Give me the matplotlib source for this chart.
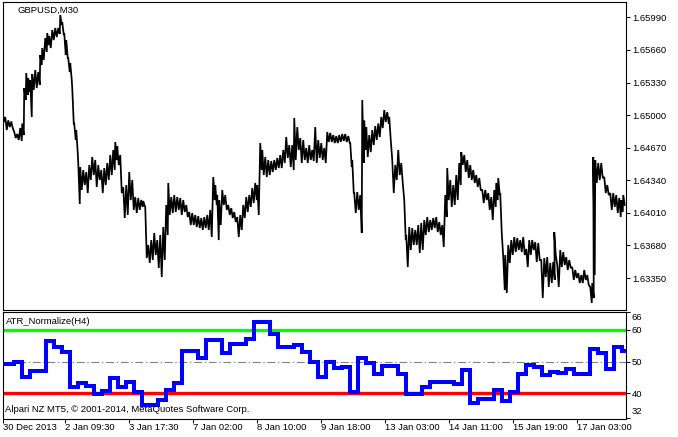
"""
GBPUSD M30 price chart with ATR_Normalize(H4) sub-window (MetaTrader 5 style)
"""
import numpy as np
import matplotlib.pyplot as plt
import matplotlib.transforms as mtransforms

plt.rcParams["font.family"] = ["Liberation Sans", "DejaVu Sans"]

# --- price data: bar index (M30 bars), high and low ---
bars = [
    0, 3, 6, 9, 12, 15, 18, 20, 22, 24,
    26, 28, 30, 33, 36, 38, 40, 43, 45, 47,
    50, 53, 56, 58, 60, 62, 64, 66, 68, 70,
    72, 74, 76, 78, 81, 84, 87, 90, 93, 96,
    99, 102, 105, 108, 111, 113, 115, 118, 121, 124,
    127, 130, 133, 136, 139, 141, 143, 146, 149, 152,
    155, 158, 161, 164, 166, 169, 172, 175, 178, 181,
    184, 187, 190, 193, 196, 199, 202, 205, 208, 211,
    213, 215, 217, 220, 223, 226, 229, 232, 235, 238,
    241, 244, 247, 250, 253, 255, 258, 260, 263, 266,
    269, 272, 275, 278, 281, 284, 287, 290, 292, 295,
    298, 301, 304, 307, 310, 313, 316, 319, 322, 325,
    328, 331, 334, 337, 340, 343, 346, 348, 350, 352,
    355, 358, 360, 362, 364, 367, 370, 373, 376, 379,
    382, 385, 387, 390, 393, 396, 399, 402, 404, 407,
    410, 413, 416, 419, 422, 425, 428, 431, 434, 437,
    440, 443, 445, 448, 451, 454, 457, 459, 462, 465,
    468, 471, 474, 477, 480, 483, 486, 489, 492, 494,
    496, 498, 501, 503, 506, 509, 512, 515, 518, 521,
    524, 527, 530, 533, 536, 539, 542, 545, 548, 551,
    552, 555, 558, 561, 564, 567, 570, 573, 576, 579,
    582, 585, 588, 590, 591, 593, 596, 599, 602, 605,
    608, 611, 614, 617, 619, 621,
]
high = [
    1.65082, 1.64981, 1.64947, 1.64935, 1.64829, 1.64809, 1.64869, 1.64915, 1.65274, 1.65426,
    1.65375, 1.65355, 1.65416, 1.65456, 1.65436, 1.65608, 1.65679, 1.65780, 1.65831, 1.65801,
    1.65861, 1.65882, 1.65882, 1.66013, 1.65942, 1.65831, 1.65760, 1.65578, 1.65527, 1.65274,
    1.64915, 1.64849, 1.64515, 1.64474, 1.64444, 1.64424, 1.64495, 1.64576, 1.64545, 1.64495,
    1.64444, 1.64464, 1.64515, 1.64596, 1.64647, 1.64728, 1.64687, 1.64596, 1.64272, 1.64292,
    1.64424, 1.64343, 1.64171, 1.64161, 1.64140, 1.64130, 1.64070, 1.63685, 1.63735, 1.63806,
    1.63735, 1.63786, 1.63867, 1.64090, 1.64313, 1.64171, 1.64191, 1.64171, 1.64161, 1.64140,
    1.64090, 1.64019, 1.64009, 1.63989, 1.63978, 1.63958, 1.63968, 1.63989, 1.64040, 1.64373,
    1.64292, 1.64191, 1.64140, 1.64242, 1.64191, 1.64090, 1.64059, 1.64019, 1.63968, 1.63989,
    1.64090, 1.64171, 1.64191, 1.64262, 1.64313, 1.64292, 1.64717, 1.64647, 1.64576, 1.64545,
    1.64535, 1.64545, 1.64566, 1.64596, 1.64647, 1.64778, 1.64697, 1.64697, 1.64970, 1.64879,
    1.64768, 1.64748, 1.64667, 1.64697, 1.64647, 1.64879, 1.64748, 1.64717, 1.64667, 1.64829,
    1.64819, 1.64798, 1.64788, 1.64798, 1.64809, 1.64809, 1.64788, 1.64717, 1.64545, 1.64211,
    1.64221, 1.64191, 1.65153, 1.64947, 1.64879, 1.64798, 1.64849, 1.64889, 1.64915, 1.64981,
    1.65051, 1.65031, 1.64981, 1.64545, 1.64495, 1.64647, 1.64515, 1.64140, 1.63786, 1.63867,
    1.63857, 1.63837, 1.63887, 1.63908, 1.63938, 1.63968, 1.63938, 1.63958, 1.63968, 1.63918,
    1.63887, 1.64191, 1.64464, 1.64343, 1.64292, 1.64393, 1.64515, 1.64626, 1.64596, 1.64545,
    1.64495, 1.64444, 1.64393, 1.64363, 1.64242, 1.64242, 1.64211, 1.64171, 1.64242, 1.64313,
    1.64363, 1.64211, 1.63563, 1.63584, 1.63685, 1.63735, 1.63766, 1.63756, 1.63735, 1.63766,
    1.63645, 1.63735, 1.63735, 1.63715, 1.63705, 1.63533, 1.63553, 1.63563, 1.63503, 1.63513,
    1.63816, 1.63482, 1.63634, 1.63614, 1.63563, 1.63533, 1.63462, 1.63432, 1.63401, 1.63381,
    1.63432, 1.63381, 1.63260, 1.63300, 1.64576, 1.64545, 1.64515, 1.64515, 1.64373, 1.64292,
    1.64211, 1.64211, 1.64191, 1.64161, 1.64140, 1.64191,
]
low = [
    1.64930, 1.64849, 1.64879, 1.64869, 1.64768, 1.64748, 1.64738, 1.64798, 1.65153, 1.65203,
    1.65234, 1.64981, 1.65254, 1.65274, 1.65305, 1.65507, 1.65558, 1.65639, 1.65709, 1.65679,
    1.65760, 1.65790, 1.65821, 1.65912, 1.65811, 1.65608, 1.65578, 1.65436, 1.65355, 1.64915,
    1.64748, 1.64616, 1.64100, 1.64242, 1.64292, 1.64211, 1.64343, 1.64393, 1.64272, 1.64343,
    1.64211, 1.64292, 1.64343, 1.64393, 1.64444, 1.64545, 1.64495, 1.64211, 1.63958, 1.63989,
    1.64140, 1.64040, 1.64009, 1.64040, 1.64070, 1.64080, 1.63553, 1.63503, 1.63533, 1.63584,
    1.63452, 1.63361, 1.63533, 1.63786, 1.63989, 1.64009, 1.64019, 1.64040, 1.63989, 1.64019,
    1.63968, 1.63887, 1.63887, 1.63867, 1.63857, 1.63837, 1.63857, 1.63837, 1.63766, 1.64140,
    1.64090, 1.63735, 1.63887, 1.64090, 1.64040, 1.63989, 1.63958, 1.63918, 1.63766, 1.63837,
    1.63958, 1.64019, 1.64070, 1.64110, 1.64140, 1.63989, 1.64444, 1.64393, 1.64373, 1.64393,
    1.64424, 1.64444, 1.64464, 1.64464, 1.64515, 1.64566, 1.64474, 1.64444, 1.64545, 1.64647,
    1.64515, 1.64545, 1.64515, 1.64545, 1.64535, 1.64515, 1.64566, 1.64545, 1.64515, 1.64728,
    1.64728, 1.64717, 1.64717, 1.64728, 1.64738, 1.64728, 1.64717, 1.64474, 1.64211, 1.64009,
    1.64040, 1.63806, 1.64515, 1.64647, 1.64576, 1.64626, 1.64697, 1.64748, 1.64778, 1.64869,
    1.64930, 1.64915, 1.64748, 1.64211, 1.64343, 1.64393, 1.64313, 1.63735, 1.63462, 1.63634,
    1.63685, 1.63685, 1.63604, 1.63634, 1.63786, 1.63816, 1.63837, 1.63857, 1.63816, 1.63786,
    1.63665, 1.63968, 1.64140, 1.64070, 1.64090, 1.64140, 1.64292, 1.64495, 1.64424, 1.64363,
    1.64343, 1.64313, 1.64272, 1.64242, 1.64110, 1.64140, 1.64040, 1.63938, 1.64070, 1.64140,
    1.64191, 1.63806, 1.63229, 1.63199, 1.63503, 1.63584, 1.63614, 1.63634, 1.63614, 1.63584,
    1.63462, 1.63584, 1.63634, 1.63513, 1.63533, 1.63148, 1.63361, 1.63260, 1.63300, 1.63331,
    1.63584, 1.63260, 1.63462, 1.63482, 1.63432, 1.63452, 1.63331, 1.63351, 1.63300, 1.63300,
    1.63331, 1.63280, 1.63098, 1.63148, 1.63381, 1.64313, 1.64343, 1.64363, 1.64211, 1.64191,
    1.64040, 1.64070, 1.64009, 1.63968, 1.64019, 1.64090,
]

# --- ATR_Normalize(H4), one value per H4 bar (8 M30 bars) ---
atr_values = [
    49.4, 49.4, 50.0, 45.3, 47.1, 47.1, 56.5, 54.7, 53.1, 42.1,
    43.2, 42.3, 39.7, 40.7, 44.9, 42.1, 43.7, 40.3, 36.3, 36.3,
    37.9, 41.1, 43.2, 53.4, 53.4, 51.3, 56.8, 56.8, 52.6, 55.5,
    55.5, 57.1, 62.6, 62.6, 58.6, 54.7, 54.7, 55.3, 53.1, 50.0,
    45.3, 50.0, 47.9, 48.2, 40.3, 51.1, 49.5, 46.0, 48.7, 48.7,
    46.0, 39.7, 39.7, 42.1, 43.7, 43.7, 43.7, 43.0, 47.4, 37.0,
    38.1, 38.1, 41.1, 37.7, 40.5, 46.1, 48.9, 48.4, 45.8, 46.8,
    46.3, 47.7, 46.0, 46.0, 53.9, 52.8, 47.6, 54.5, 53.5,
]
atr_upper, atr_mid, atr_lower = 60, 50, 40

price_ticks = [1.63350, 1.63680, 1.64010, 1.64340, 1.64670,
               1.65000, 1.65330, 1.65660, 1.65990]
time_ticks = [0, 62, 126, 190, 254, 318, 382, 446, 510, 574]
time_labels = ["30 Dec 2013", "2 Jan 09:30", "3 Jan 17:30", "7 Jan 02:00",
               "8 Jan 10:00", "9 Jan 18:00", "13 Jan 03:00", "14 Jan 11:00",
               "15 Jan 19:00", "17 Jan 03:00"]

W, H = 678, 437
FS = 6.8


def box(left, top, right, bottom):
    return [left / W, 1 - bottom / H, (right - left) / W, (bottom - top) / H]


fig = plt.figure(figsize=(W / 100, H / 100), dpi=100)
ax = fig.add_axes(box(2.5, 2, 626, 310))
ax2 = fig.add_axes(box(2.5, 312, 626, 418.5))
XMAX = 623

# price: dense high/low zigzag, looks like 1px bars
b = np.asarray(bars, dtype=float)
zx = np.column_stack([b - 0.75, b + 0.75]).ravel()
zy = np.column_stack([high, low]).ravel()
ax.plot(zx, zy, color="black", lw=1.25, solid_joinstyle="miter")

ax.set_xlim(-0.5, XMAX)
ax.set_ylim(1.63027, 1.66145)
ax.set_xticks([])
ax.yaxis.tick_right()
ax.set_yticks(price_ticks, labels=[f"{p:.5f}" for p in price_ticks])
ax.tick_params(axis="y", direction="out", length=3, width=0.7,
               labelsize=FS, pad=1.2, colors="black")

# ATR sub-window
ax2.axhline(atr_upper, color="#00ff00", lw=2.4, zorder=2)
ax2.axhline(atr_lower, color="#ff0000", lw=2.4, zorder=2)
ax2.axhline(atr_mid, color="#808080", lw=0.8, ls=(0, (7, 2.5, 1.2, 2.5)), zorder=1)
sx = 8 * np.arange(len(atr_values)) - 5
sx = np.append(sx, XMAX)
sy = np.append(atr_values, atr_values[-1])
ax2.plot(sx, sy, drawstyle="steps-post", color="#0000ff", lw=2.9,
         solid_joinstyle="miter", zorder=3)

ax2.set_xlim(-0.5, XMAX)
ax2.set_ylim(32.04, 65.68)
ax2.yaxis.tick_right()
ax2.set_yticks([32.04, 40, 50, 60, 65.68], labels=["", "40", "50", "60", ""])
ax2.tick_params(axis="y", direction="out", length=3, width=0.7,
                labelsize=FS, pad=1.2)
trans = mtransforms.blended_transform_factory(ax2.transAxes, ax2.transData)
ax2.text(1.0092, 63.9, "66", transform=trans, ha="left", va="center", fontsize=FS)
ax2.text(1.0092, 34.2, "32", transform=trans, ha="left", va="center", fontsize=FS)

ax2.set_xticks(time_ticks, labels=time_labels)
ax2.tick_params(axis="x", direction="out", length=3, width=0.7,
                labelsize=FS, pad=0.6)
for lbl in ax2.get_xticklabels():
    lbl.set_horizontalalignment("left")

for a in (ax, ax2):
    for sp in a.spines.values():
        sp.set_linewidth(0.8)
        sp.set_color("black")

fig.text(17 / W, 1 - 10 / H, "GBPUSD,M30", ha="left", va="center", fontsize=FS)
fig.text(6 / W, 1 - 321.5 / H, "ATR_Normalize(H4)", ha="left", va="center",
         fontsize=FS)
fig.text(5 / W, 1 - 409 / H, "Alpari NZ MT5, \u00a9 2001-2014, MetaQuotes Software Corp.",
         ha="left", va="center", fontsize=FS)

fig.savefig("out.png", dpi=100)
